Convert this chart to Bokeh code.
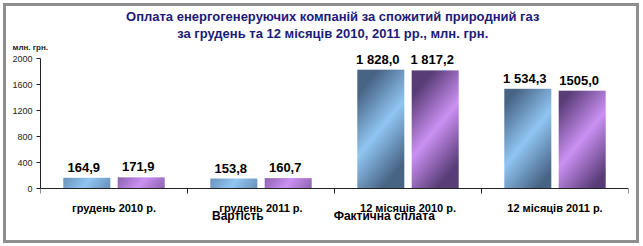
import numpy as np
from bokeh.plotting import figure
from bokeh.core.properties import value
from bokeh.models import (FixedTicker, LabelSet, ColumnDataSource, Legend,
                          LegendItem, Range1d, Title)
from bokeh.embed import file_html
from bokeh.resources import INLINE

categories = ["грудень 2010 р.", "грудень 2011 р.", "12 місяців 2010 р.", "12 місяців 2011 р."]
cost = [164.9, 153.8, 1828.0, 1534.3]
paid = [171.9, 160.7, 1817.2, 1505.0]
cost_labels = ["164,9", "153,8", "1 828,0", "1 534,3"]
paid_labels = ["171,9", "160,7", "1 817,2", "1505,0"]
series_names = ["Вартість", "Фактична сплата"]
y_ticks = [0, 400, 800, 1200, 1600, 2000]
title_lines = ["Оплата енергогенеруючих  компаній за спожитий природний газ",
               "за грудень та 12 місяців 2010, 2011 рр.,  млн. грн."]
unit_label = "млн. грн."

FONT = "Liberation Sans"
W, H = 630, 234
ML, MR, MT, MB = 34, 8, 41, 4
FW, FH = 588, 185
YAX = 2000
YSTART, YEND = -738, 2108
NCAT = len(categories)
UPP = (YEND - YSTART) / FH  # data units per pixel

p = figure(width=W, height=H, frame_width=FW, frame_height=FH,
           x_range=Range1d(0, NCAT), y_range=Range1d(YSTART, YEND),
           output_backend="svg", toolbar_location=None,
           min_border_left=ML, min_border_right=MR, min_border_top=MT, min_border_bottom=MB)
p.styles = {"border": "3px solid #8e8e8e", "margin": "3px"}
p.outline_line_color = None
p.grid.visible = False
p.background_fill_color = "white"
p.border_fill_color = "white"
p.xaxis.visible = False


def dx(px):
    return px * NCAT / FW


def grad_img(val, dark, light, wpx):
    h = max(2, int(round(val / UPP)))
    xs = np.arange(wpx) - (wpx - 1) / 2
    rows = np.arange(h)
    ydown = (h - 1 - rows) - (h - 1) / 2
    X, Y = np.meshgrid(xs, ydown)
    d = 1.2 * X + Y
    f = np.clip(1 - np.abs(d) / 62.0, 0, 1)
    dark = np.array(dark, float)
    light = np.array(light, float)
    col = dark[None, None, :] + (light - dark)[None, None, :] * f[:, :, None]
    img = np.empty((h, wpx), dtype=np.uint32)
    v = img.view(dtype=np.uint8).reshape((h, wpx, 4))
    v[:, :, 0] = col[:, :, 0]
    v[:, :, 1] = col[:, :, 1]
    v[:, :, 2] = col[:, :, 2]
    v[:, :, 3] = 255
    return img


BAR_PX = 47
bw = dx(BAR_PX)
offs = [-0.185, 0.185]
palettes = [((72, 100, 132), (145, 198, 244)), ((88, 60, 118), (204, 145, 244))]
legend_colors = ["#6d9fd3", "#a983d6"]

items = []
for s, (vals, labs) in enumerate([(cost, cost_labels), (paid, paid_labels)]):
    centers = [i + 0.5 + offs[s] for i in range(NCAT)]
    imgs = [grad_img(v, palettes[s][0], palettes[s][1], BAR_PX) for v in vals]
    src = ColumnDataSource(dict(image=imgs, x=[c - bw / 2 for c in centers],
                                y=[0] * NCAT, dw=[bw] * NCAT, dh=vals))
    p.image_rgba(image="image", x="x", y="y", dw="dw", dh="dh", source=src)
    lsrc = ColumnDataSource(dict(x=[c - dx(3) for c in centers], y=vals, text=labs))
    p.add_layout(LabelSet(x="x", y="y", text="text", source=lsrc, y_offset=6,
                          text_align="center", text_baseline="alphabetic",
                          text_font=value(FONT), text_font_size=value("13px"),
                          text_font_style="bold", text_color="black"))
    dummy = p.vbar(x=[], top=[], width=0.1, fill_color=legend_colors[s], line_color=None)
    items.append(LegendItem(label=series_names[s], renderers=[dummy]))

# category (x) axis drawn at y = 0
bounds = list(range(NCAT + 1))
p.segment(x0=[0], y0=[0], x1=[NCAT], y1=[0], line_color="#222222", line_width=1)
p.segment(x0=bounds, y0=[0] * len(bounds), x1=bounds, y1=[-5 * UPP] * len(bounds),
          line_color="#222222", line_width=1)
p.text(x=[i + 0.5 for i in range(NCAT)], y=[0] * NCAT, text=categories, y_offset=19,
       text_align="center", text_baseline="middle", text_font=value(FONT),
       text_font_size=value("11px"), text_font_style="bold", text_color="black")

# value (y) axis
p.yaxis.ticker = FixedTicker(ticks=y_ticks)
p.yaxis.bounds = (0, YAX)
p.yaxis.major_tick_out = 4
p.yaxis.major_tick_in = 0
p.yaxis.minor_tick_out = 0
p.yaxis.minor_tick_in = 0
p.yaxis.major_label_standoff = 4
p.yaxis.major_label_text_font = FONT
p.yaxis.major_label_text_font_size = "9px"
p.yaxis.major_label_text_color = "#222222"
p.yaxis.axis_line_color = "#222222"
p.yaxis.major_tick_line_color = "#222222"

# titles (first added is nearest the frame)
p.add_layout(Title(text=unit_label, align="left", offset=-28, standoff=0,
                   text_font=FONT, text_font_size="8px", text_font_style="bold",
                   text_color="#222222"), "above")
p.add_layout(Title(text=title_lines[1], align="center", offset=-21, standoff=0,
                   text_font=FONT, text_font_size="13px", text_font_style="bold",
                   text_color="#1b1b78"), "above")
p.add_layout(Title(text=title_lines[0], align="center", offset=-21, standoff=0,
                   text_font=FONT, text_font_size="13px", text_font_style="bold",
                   text_color="#1b1b78"), "above")

legend = Legend(items=items, location=(160, 13), orientation="horizontal",
                glyph_width=7, glyph_height=7, label_standoff=5, spacing=58,
                label_height=12, padding=0, margin=0,
                border_line_color=None, background_fill_alpha=0,
                label_text_font=FONT, label_text_font_size="12px",
                label_text_font_style="bold", label_text_color="black")
p.add_layout(legend, "center")

open("out.html", "w").write(file_html(p, INLINE))
